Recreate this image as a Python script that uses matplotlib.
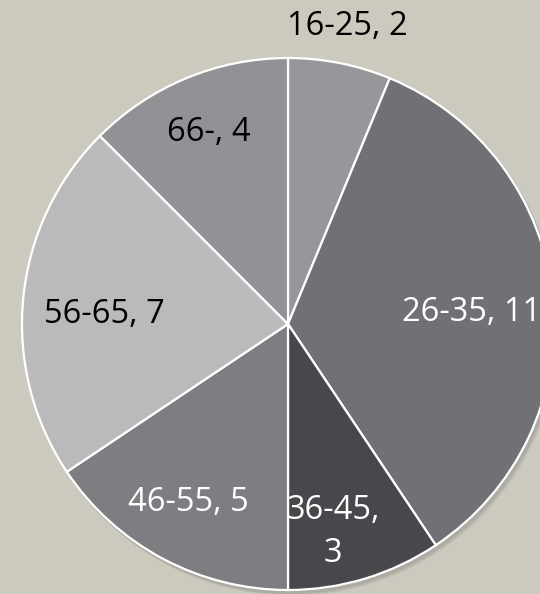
import numpy as np
import matplotlib
matplotlib.use("Agg")
import matplotlib.pyplot as plt
from matplotlib.patches import Circle

# age groups and counts
ages = ['16-25', '26-35', '36-45', '46-55', '56-65', '66-']
counts = [2, 11, 3, 5, 7, 4]

colors = ['#96979B', '#707175', '#48474B', '#7E7D82', '#BABABC', '#919296']
text_colors = ['black', 'white', 'white', 'white', 'black', 'black']
# label placement: fraction of radius, and clockwise nudge from the wedge middle (deg)
label_dist = [1.14, 0.69, 0.80, 0.77, 0.69, 0.78]
label_nudge = [0, 2, 4.6, 1, -2.8, 0]

W, H = 540, 594
fig = plt.figure(figsize=(W / 100, H / 100), dpi=100)
fig.patch.set_facecolor('#CCCABF')
ax = fig.add_axes([0, 0, 1, 1])
ax.set_facecolor('#CCCABF')

cx, cy, r = 288, H - 324, 266

# soft drop shadow under the pie
for i, a in enumerate([0.06, 0.05, 0.04]):
    ax.add_patch(Circle((cx + 2 + i, cy - 3 - i), r + 1, color='black',
                        alpha=a, lw=0, zorder=0))

wedges, _ = ax.pie(counts, colors=colors, startangle=90, counterclock=False,
                   center=(cx, cy), radius=r, frame=True,
                   wedgeprops=dict(edgecolor='white', linewidth=1.6))

for w, age, n, tc, d, nd in zip(wedges, ages, counts, text_colors,
                                label_dist, label_nudge):
    ang = np.deg2rad((w.theta1 + w.theta2) / 2 - nd)
    x = cx + d * r * np.cos(ang)
    y = cy + d * r * np.sin(ang)
    txt = f'{age}, {n}'
    if age == '36-45':
        txt = f'{age},\n{n}'
    ax.text(x, y, txt, color=tc, fontsize=23.5, family='Open Sans',
            ha='center', va='center', linespacing=1.4)

ax.set_xlim(0, W)
ax.set_ylim(0, H)
ax.set_aspect('equal')
ax.axis('off')

fig.savefig('out.png', dpi=100, facecolor=fig.get_facecolor())
